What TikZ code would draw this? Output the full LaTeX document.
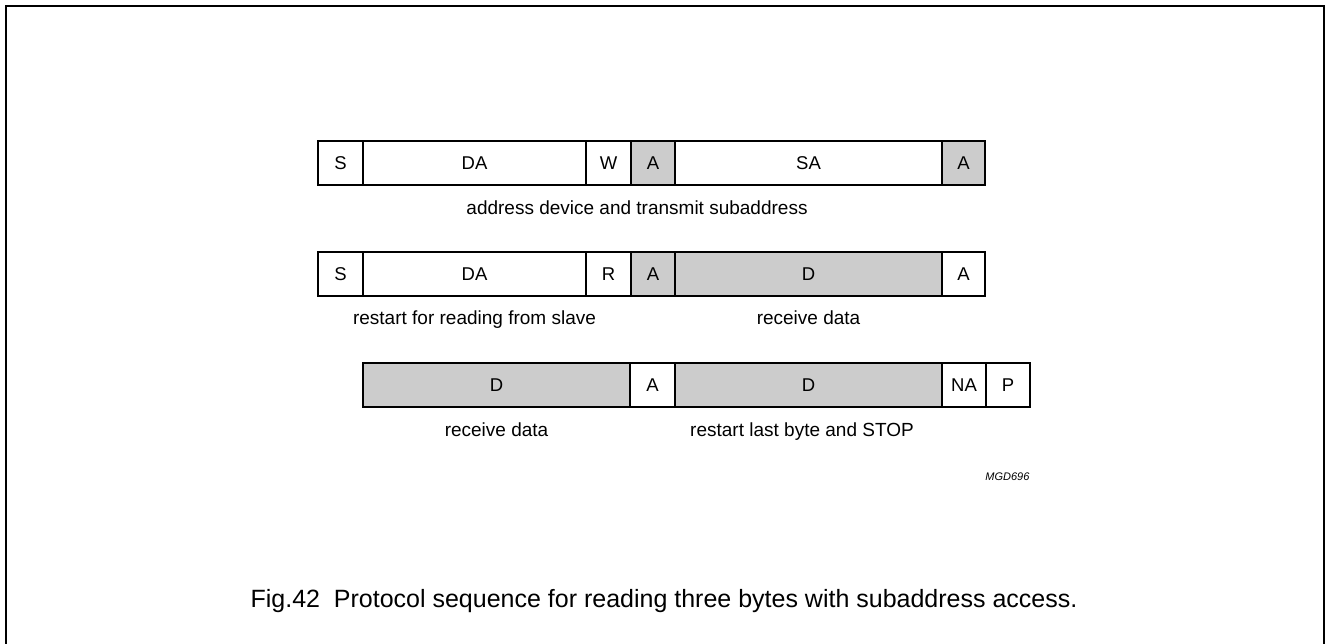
\documentclass[tikz,border=0pt]{standalone}
\usepackage{fontspec}
\setmainfont{Liberation Sans}
\usepackage{tikz}
\tikzset{
  field/.style={rectangle, draw=black, line width=1.4pt, outer sep=0pt, inner sep=0pt, minimum height=44pt, font=\fontsize{18.5}{22}\selectfont},
  field_white/.style={field, fill=white},
  field_grey/.style={field, fill=black!20},
  label_text/.style={anchor=base, font=\fontsize{19}{23}\selectfont},
  code_text/.style={anchor=base east, font=\fontsize{11}{13}\selectfont\itshape},
  caption_text/.style={anchor=base, font=\fontsize{25}{30}\selectfont},
  frame_line/.style={line width=2pt, black}
}
\begin{document}
\begin{tikzpicture}[x=1pt, y=-1pt]
  \useasboundingbox (0,0) rectangle (1327,643);
  \draw[frame_line] (6,660) -- (6,6) -- (1324,6) -- (1324,660);

  % address device and transmit subaddress
  \node[field_white, minimum width=45pt] (start_a) at (340.5,163) {S};
  \node[field_white, minimum width=223pt] (addr_a) at (474.5,163) {DA};
  \node[field_white, minimum width=45pt] (write_a) at (608.5,163) {W};
  \node[field_grey, minimum width=44pt] (ack_a) at (653,163) {A};
  \node[field_white, minimum width=267pt] (subaddr_a) at (808.5,163) {SA};
  \node[field_grey, minimum width=43pt] (ack_b) at (963.5,163) {A};
  \node[label_text] (label_a) at (637,214) {address device and transmit subaddress};

  % restart for reading
  \node[field_white, minimum width=45pt] (start_b) at (340.5,274) {S};
  \node[field_white, minimum width=223pt] (addr_b) at (474.5,274) {DA};
  \node[field_white, minimum width=45pt] (read_b) at (608.5,274) {R};
  \node[field_grey, minimum width=44pt] (ack_c) at (653,274) {A};
  \node[field_grey, minimum width=267pt] (data_a) at (808.5,274) {D};
  \node[field_white, minimum width=43pt] (ack_d) at (963.5,274) {A};
  \node[label_text] (label_b) at (474.5,324) {restart for reading from slave};
  \node[label_text] (label_c) at (808.5,324) {receive data};

  % last bytes
  \node[field_grey, minimum width=267pt] (data_b) at (496.5,385) {D};
  \node[field_white, minimum width=45pt] (ack_e) at (652.5,385) {A};
  \node[field_grey, minimum width=267pt] (data_c) at (808.5,385) {D};
  \node[field_white, minimum width=44pt] (nack_a) at (964,385) {NA};
  \node[field_white, minimum width=44pt] (stop_a) at (1008,385) {P};
  \node[label_text] (label_d) at (496.5,436) {receive data};
  \node[label_text] (label_e) at (802,436) {restart last byte and STOP};
  \node[code_text] (code_a) at (1033,480) {MGD696};

  \node[caption_text] (caption) at (664,607) {Fig.42\ \ Protocol sequence for reading three bytes with subaddress access.};
\end{tikzpicture}
\end{document}
